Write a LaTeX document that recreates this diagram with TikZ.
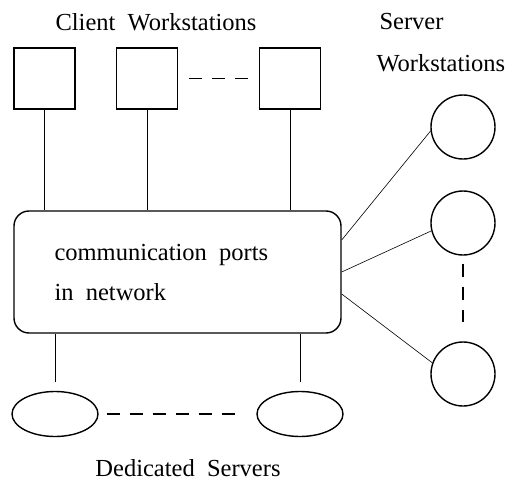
\documentclass[tikz,border=0pt]{standalone}
\usepackage{fontspec}
\setmainfont{Liberation Serif}
\usetikzlibrary{shapes.geometric,positioning,calc}

\begin{document}
\begin{tikzpicture}[
    x=1pt, y=-1pt,
    font=\fontsize{24.5}{30}\selectfont,
    wsbox/.style={draw, rectangle, line width=1.4pt, minimum size=61pt, inner sep=0pt},
    srvcirc/.style={draw, circle, line width=1.4pt, minimum size=64pt, inner sep=0pt},
    dedell/.style={draw, ellipse, line width=1.4pt, minimum width=86pt, minimum height=45pt, inner sep=0pt},
    link/.style={line width=0.6pt},
    gap/.style={line width=1.4pt, dash pattern=on 13pt off 10pt}
]
    \useasboundingbox (0,0) rectangle (515,482);

    % client workstations
    \node[wsbox] (c1) at (44.5,78.5) {}; \node[wsbox] (c2) at (147,78.5) {}; \node[wsbox] (c3) at (290,78.5) {};
    \node (clbl) at (156,22) {Client\ \ Workstations};
    \draw[gap, shorten <=11pt, shorten >=11pt] (c2.east) -- (c3.west);

    % network
    \node[draw, rounded corners=15pt, line width=1.4pt, minimum width=327pt, minimum height=122pt] (net) at (177.5,272) {};
    \node[anchor=west] (net1) at (51,255) {communication\ \ ports};
    \node[anchor=west] (net2) at (51,292) {in\ \ network};

    % server workstations
    \node[anchor=west] (slbl1) at (376,22) {Server};
    \node[anchor=west] (slbl2) at (373,63) {Workstations};
    \node[srvcirc] (s1) at (463,127) {}; \node[srvcirc] (s2) at (463,223) {}; \node[srvcirc] (s3) at (463,374) {};
    \draw[gap, shorten <=8pt, shorten >=19pt] (s2.south) -- (s3.north);

    % dedicated servers
    \node[dedell] (d1) at (55,414) {}; \node[dedell] (d2) at (300,414) {};
    \draw[gap, shorten <=8pt, shorten >=19pt] (d1.east) -- (d2.west);
    \node (dlbl) at (188,468) {Dedicated\ \ Servers};

    % connections
    \draw[link] (c1.south) -- (c1 |- net.north);
    \draw[link] (c2.south) -- (c2 |- net.north);
    \draw[link] (c3.south) -- (c3 |- net.north);
    \coordinate (n1) at ([yshift=32pt]net.east);
    \coordinate (n2) at (net.east);
    \coordinate (n3) at ([yshift=-22pt]net.east);
    \draw[link] (n1) -- (s1.187);
    \draw[link] (n2) -- (s2.194);
    \draw[link] (n3) -- (s3.160);
    \draw[link, shorten <=9pt] (d1.north) -- (d1 |- net.south);
    \draw[link, shorten <=9pt] (d2.north) -- (d2 |- net.south);
\end{tikzpicture}
\end{document}
